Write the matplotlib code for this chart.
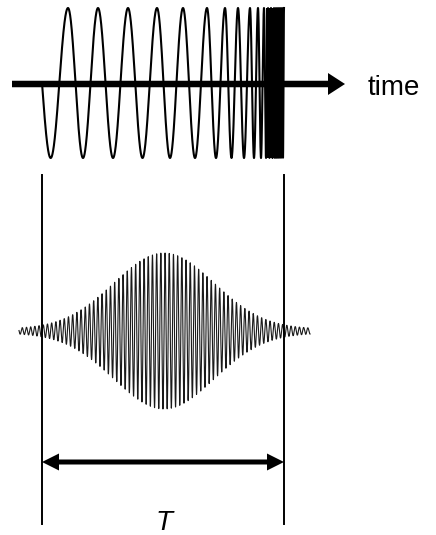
import numpy as np
import matplotlib.pyplot as plt

# Schematic: chirped pulse (top) and its compressed wave packet (bottom).
# Coordinates are in image pixels (origin top-left).

# chirp: x positions of the upper peaks
chirp_peaks_x = [68, 98, 128, 157, 183, 207, 225, 238, 250, 258, 264, 268, 271, 274, 276, 278, 280, 282, 284]
chirp_start_x = 42
chirp_amp = 75
chirp_center_y = 83

# wave packet under the chirp
packet_center_x = 164
packet_center_y = 331
packet_amp = 76
packet_sigma = 50
packet_floor = 2.0
packet_period = 4.2
packet_range = (19, 310)

# the time window T
window_left = 42
window_right = 284
window_top = 175
window_bottom = 524
window_arrow_y = 462

fig = plt.figure(figsize=(4.36, 5.35), dpi=100)
ax = fig.add_axes([0, 0, 1, 1])
ax.set_xlim(0, 436)
ax.set_ylim(535, 0)
ax.axis('off')

# chirped signal: phase goes pi/2 at the start, then 2*pi per peak
peak_phase = 2 * np.pi * np.arange(1, len(chirp_peaks_x) + 1)
xp = np.concatenate([[chirp_start_x], chirp_peaks_x])
fp = np.concatenate([[np.pi / 2], peak_phase])
x = np.linspace(chirp_start_x, chirp_peaks_x[-1], 4000)
phase = np.interp(x, xp, fp)
ax.plot(x, chirp_center_y - chirp_amp * np.cos(phase), color='black', lw=1.5, zorder=2)
# dense part at the end is basically solid
ax.fill_between([266, 284], chirp_center_y - chirp_amp, chirp_center_y + chirp_amp,
                color='black', lw=0, zorder=2)

# time axis arrow
ax.arrow(12, 84, 333, 0, width=6.5, head_width=22, head_length=17,
         length_includes_head=True, color='black', lw=0, zorder=3)
ax.text(368, 95, 'time', fontsize=20, family='Liberation Sans', va='baseline', ha='left')

# wave packet
xw = np.linspace(packet_range[0], packet_range[1], 8000)
env = packet_amp * np.exp(-(xw - packet_center_x) ** 2 / (2 * packet_sigma ** 2)) + packet_floor
yw = packet_center_y - env * np.sin(2 * np.pi * (xw - packet_center_x) / packet_period)
ax.plot(xw, yw, color='#1a1a1a', lw=0.8, zorder=2)

# window lines
for xv in (window_left, window_right):
    ax.plot([xv, xv], [window_top, window_bottom], color='black', lw=1.4, zorder=3)

# double arrow for T
mid = (window_left + window_right) / 2
for end in (window_left, window_right):
    ax.arrow(mid, window_arrow_y, end - mid, 0, width=5, head_width=17, head_length=17,
             length_includes_head=True, color='black', lw=0, zorder=3)
ax.text(mid + 1, 530, 'T', fontsize=20, family='Liberation Sans', style='italic',
        va='baseline', ha='center')

fig.savefig('out.png', dpi=100)
